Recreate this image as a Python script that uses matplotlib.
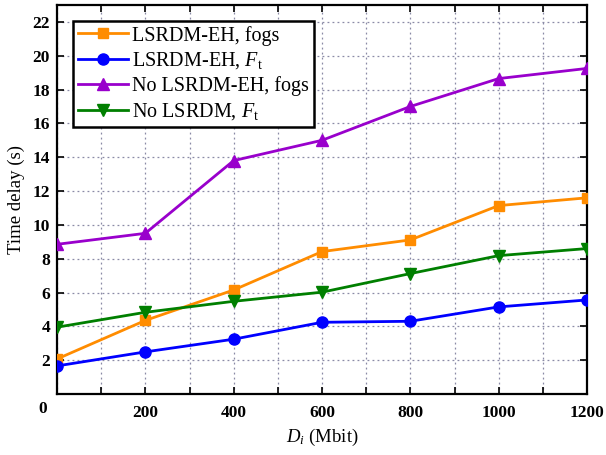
import matplotlib
matplotlib.use("Agg")
import matplotlib.pyplot as plt
import numpy as np

x_vals = [0, 200, 400, 600, 800, 1000, 1200]
lsrdm_fogs = [2.07, 4.35, 6.15, 8.42, 9.11, 11.14, 11.6]
lsrdm_ft = [1.66, 2.49, 3.24, 4.24, 4.3, 5.15, 5.56]
no_lsrdm_fogs = [8.85, 9.5, 13.8, 15.0, 17.0, 18.65, 19.25]
no_lsrdm_ft = [3.95, 4.83, 5.48, 6.02, 7.12, 8.18, 8.6]

labels = ["LSRDM-EH, fogs", r"LSRDM-EH, $F_\mathrm{t}$",
          "No LSRDM-EH, fogs", r"No LSRDM, $F_\mathrm{t}$"]
ytick_vals = [2, 4, 6, 8, 10, 12, 14, 16, 18, 20, 22]

plt.rcParams['font.family'] = ['Liberation Serif', 'DejaVu Serif']
plt.rcParams['mathtext.fontset'] = 'custom'
plt.rcParams['mathtext.rm'] = 'Liberation Serif'
plt.rcParams['mathtext.it'] = 'Liberation Serif:italic'

fig = plt.figure(figsize=(6.06, 4.55), dpi=100)
ax = fig.add_axes([57/606, 1-394/455, (587-57)/606, (394-5)/455])

ax.plot(x_vals, lsrdm_fogs, color='#FF8C00', marker='s', ms=7.5, lw=2, label=labels[0], zorder=3)
ax.plot(x_vals, lsrdm_ft, color='#0000FF', marker='o', ms=8, lw=2, label=labels[1], zorder=3)
ax.plot(x_vals, no_lsrdm_fogs, color='#9900CC', marker='^', ms=8.5, lw=2, label=labels[2], zorder=3)
ax.plot(x_vals, no_lsrdm_ft, color='#007F00', marker='v', ms=8.5, lw=2, label=labels[3], zorder=3)

ax.set_xlim(0, 1200)
ax.set_ylim(0, 23)
ax.set_xticks(np.arange(0, 1201, 100))
ax.set_xticklabels([""] + ["" if (v % 200) else str(v) for v in range(100, 1201, 100)])
ax.set_yticks(ytick_vals)
ax.set_yticklabels([str(v) for v in ytick_vals])
for lab in ax.get_xticklabels() + ax.get_yticklabels():
    lab.set_fontweight('bold')
    lab.set_fontsize(12.5)
ax.tick_params(direction='in', top=True, right=True, length=5, width=1.2)
ax.tick_params(axis='x', pad=8)
ax.tick_params(axis='y', pad=5)
ax.grid(True, linestyle=(0, (1.5, 2.5)), color='#8a8aa6', lw=0.9)
for s in ax.spines.values():
    s.set_linewidth(1.6)

fig.text(43/606, 1-409/455, "0", fontsize=12.5, fontweight='bold', ha='center', va='center')

ax.set_xlabel(r"$D_i$ (Mbit)", fontsize=13.5, labelpad=4)
ax.set_ylabel("Time delay (s)", fontsize=13.5, labelpad=5)

leg = ax.legend(loc='upper left', bbox_to_anchor=(0.03, 0.96), fontsize=14.5,
                fancybox=False, edgecolor='black', framealpha=1,
                handlelength=2.5, borderpad=0.25, labelspacing=0.25, handletextpad=0.2,
                borderaxespad=0)
leg.get_frame().set_linewidth(1.8)

fig.savefig("out.png", dpi=100)
